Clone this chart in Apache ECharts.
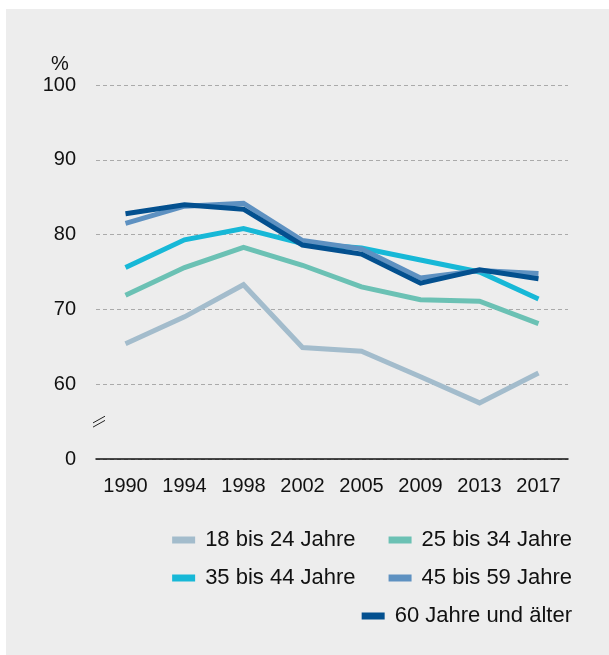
<!DOCTYPE html>
<html>
<head>
<meta charset="utf-8">
<script src="https://cdn.jsdelivr.net/npm/echarts@6/dist/echarts.min.js"></script>
<style>
  html, body { margin: 0; padding: 0; background: #fff; }
  #chart { position: absolute; left: 6px; top: 9px; width: 603px; height: 646px; background: #ededed; }
</style>
</head>
<body>
<div id="chart"></div>
<script>
// Jahre (Kategorien)
const years = ['1990', '1994', '1998', '2002', '2005', '2009', '2013', '2017']
// Werte in %
const age18to24 = [65.4, 69.0, 73.3, 64.9, 64.4, 61.0, 57.5, 61.5]
const age25to34 = [71.9, 75.6, 78.3, 75.9, 73.0, 71.3, 71.1, 68.1]
const age35to44 = [75.6, 79.3, 80.8, 78.8, 78.2, 76.6, 75.0, 71.4]
const age45to59 = [81.5, 83.8, 84.2, 79.2, 78.1, 74.2, 75.2, 74.8]
const age60plus = [82.8, 84.0, 83.4, 78.6, 77.4, 73.5, 75.3, 74.1]
// Achse: 50 steht fuer den Bruch und wird als "0" beschriftet
const yTicks = [50, 60, 70, 80, 90, 100]

const FONT = "'Liberation Sans', Arial, Helvetica, sans-serif"
const names = ['18 bis 24 Jahre', '25 bis 34 Jahre', '35 bis 44 Jahre', '45 bis 59 Jahre', '60 Jahre und älter']
const colors = ['#a3bccc', '#6bc1b4', '#17b8d7', '#5e91c1', '#03508f']
const values = [age18to24, age25to34, age35to44, age45to59, age60plus]

const chart = echarts.init(document.getElementById('chart'))

function legendRow(data, top) {
  return {
    data, top, right: 37, orient: 'horizontal', padding: 0,
    itemGap: 33, itemWidth: 23, itemHeight: 7, icon: 'rect',
    selectedMode: false,
    textStyle: { fontFamily: FONT, fontSize: 22, color: '#111', padding: [0, 0, 0, 5] }
  }
}

const percentLabel = { type: 'text', left: 45, top: 45, style: { text: '%', fontSize: 20, fontFamily: FONT, fill: '#111' } }

chart.setOption({
  animation: false,
  color: colors,
  textStyle: { fontFamily: FONT },
  grid: { left: 90, right: 41, top: 76, bottom: 196 },
  legend: [
    legendRow([names[0], names[1]], 520),
    legendRow([names[2], names[3]], 558),
    legendRow([names[4]], 596)
  ],
  graphic: [percentLabel],
  xAxis: {
    type: 'category', data: years, boundaryGap: true,
    axisLine: { lineStyle: { color: '#111', width: 1.5 } },
    axisTick: { alignWithLabel: true, length: 5, lineStyle: { color: '#111', width: 1.5 } },
    axisLabel: { color: '#111', fontSize: 20, margin: 17, fontFamily: FONT }
  },
  yAxis: {
    type: 'value', min: yTicks[0], max: yTicks[yTicks.length - 1], interval: 10,
    axisLine: { show: false }, axisTick: { show: false },
    axisLabel: {
      color: '#111', fontSize: 20, margin: 20, fontFamily: FONT,
      formatter: (v) => (v === 50 ? '0' : String(v))
    },
    splitLine: { lineStyle: { color: '#aaa', type: [4, 3], width: 1 } }
  },
  series: names.map((n, i) => ({
    name: n, type: 'line', data: values[i],
    symbol: 'none', smooth: false,
    lineStyle: { width: 5, color: colors[i], join: 'miter' },
    itemStyle: { color: colors[i] }
  }))
})

// Achsenbruch-Zeichen bei 55
const by = chart.convertToPixel({ yAxisIndex: 0 }, 55)
const bx = 93
chart.setOption({
  graphic: [
    percentLabel,
    { type: 'line', shape: { x1: bx - 6, y1: by + 1.3, x2: bx + 6, y2: by - 5.4 }, style: { stroke: '#222', lineWidth: 1 } },
    { type: 'line', shape: { x1: bx - 6, y1: by + 5.5, x2: bx + 6, y2: by - 1.2 }, style: { stroke: '#222', lineWidth: 1 } }
  ]
})
</script>
</body>
</html>
